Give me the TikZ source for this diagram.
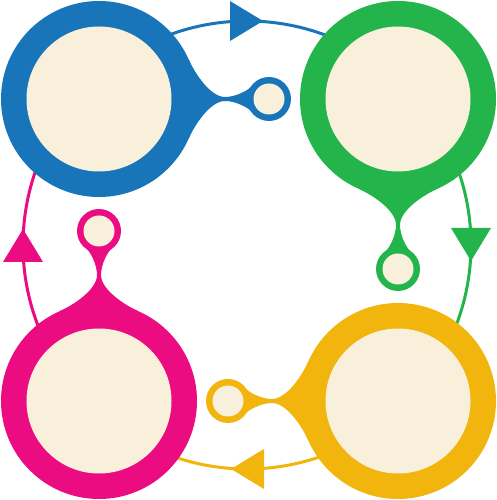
\documentclass[tikz,border=0pt]{standalone}
\usepackage{tikz}
\definecolor{cblue}{RGB}{24,117,186}
\definecolor{cgreen}{RGB}{35,181,75}
\definecolor{cyellow}{RGB}{241,181,14}
\definecolor{cpink}{RGB}{236,12,130}
\definecolor{cream}{RGB}{249,240,220}

\begin{document}
\begin{tikzpicture}[x=1pt,y=1pt]
\def \ringout {98pt} % outer radius of a ring
\def \ringin {72.5pt}
\def \stemlen {170} % from a ring to its small circle
\def \cycrad {224pt} % radius of the cycle
\useasboundingbox (0,0) rectangle (497,500);
\coordinate (mid) at (247,255);

% the cycle with its arrows
\foreach \ang/\col in {90/cblue, 0/cgreen, -90/cyellow, 180/cpink}
{
	\draw[\col, line width=3pt] ([shift={({\ang+45}:\cycrad)}]mid) arc ({\ang+45}:{\ang-45}:\cycrad);
	\fill[\col, shift={(mid)}, shift={(\ang:\cycrad)}, rotate=\ang-90]
	(16,0) -- (-17,20) -- (-17,-20) -- cycle;
}

% the rings
\foreach \pos/\ang/\col [count=\n] in {{99,401}/0/cblue, {398,401}/-90/cgreen, {398,99}/180/cyellow, {99,99}/90/cpink}
{
	\coordinate (ring\n) at (\pos);
	\begin{scope}[shift={(ring\n)}, rotate=\ang]
		\fill[\col] (0,0) circle (\ringout);
		\fill[\col] (\stemlen,0) circle (22pt);
		\fill[\col] (24:\ringout) .. controls (97,23.5) and (112,2) .. (126,2)
		.. controls (136,2) and (149,8) .. (154.1,14.1) -- (\stemlen,0)
		-- (154.1,-14.1) .. controls (149,-8) and (136,-2) .. (126,-2)
		.. controls (112,-2) and (97,-23.5) .. (-24:\ringout) -- cycle;
		\fill[cream] (0,0) circle (\ringin);
		\fill[cream] (\stemlen,0) circle (15.5pt);
	\end{scope}
}
\end{tikzpicture}
\end{document}
